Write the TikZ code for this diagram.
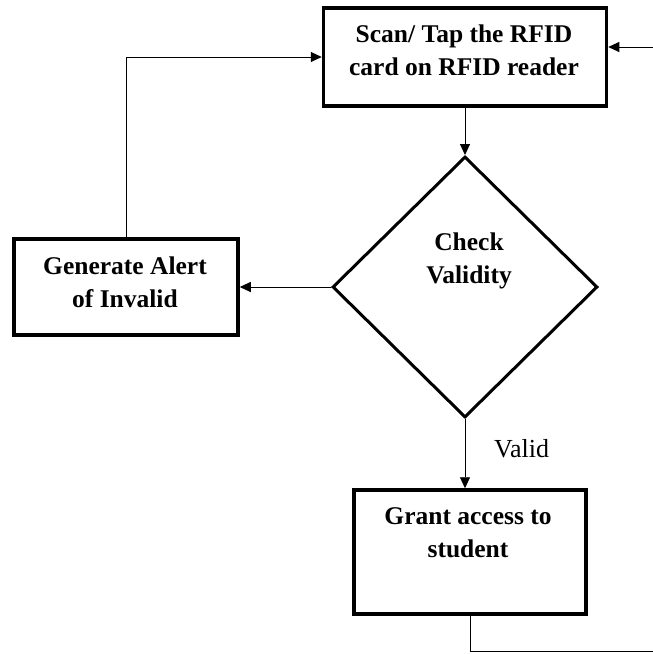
\documentclass[tikz,border=0pt]{standalone}
\usepackage{fontspec}
\setmainfont{Liberation Serif}
\usetikzlibrary{shapes.geometric,arrows.meta}
\tikzset{
  box/.style={draw, line width=3.5pt, rectangle, inner sep=0pt},
  dia/.style={draw, line width=3pt, diamond, inner sep=0pt},
  txt/.style={font=\bfseries\fontsize{25.5}{33}\selectfont, align=center, inner sep=0pt, anchor=base},
  arr/.style={line width=0.9pt, -{Triangle[length=11pt,width=10pt]}},
  ln/.style={line width=0.9pt},
}
\begin{document}
\begin{tikzpicture}[x=1pt,y=-1pt]
\useasboundingbox (0,0) rectangle (653,654);
\node[box, minimum width=283pt, minimum height=98pt] (scan) at (465,57) {};
\node[dia, minimum width=265pt, minimum height=261pt] (check) at (465,287) {};
\node[box, minimum width=224pt, minimum height=96pt] (alert) at (126,287) {};
\node[box, minimum width=232pt, minimum height=124pt] (grant) at (470,552) {};
\node[txt] (scantxt) at (464,75) {Scan/ Tap the RFID\\card on RFID reader};
\node[txt] (checktxt) at (469,283) {Check\\Validity};
\node[txt] (alerttxt) at (125,307) {Generate Alert\\of Invalid};
\node[txt] (granttxt) at (468,557) {Grant access to\\student};
\node[font=\fontsize{26}{33}\selectfont, inner sep=0pt, anchor=base west] (valid) at (494,457) {Valid};
\coordinate (rin) at (653,47);
\coordinate (gout) at (653,651);
\draw[arr] (rin) -- (rin -| scan.east);
\draw[arr] (scan.south) -- (check.north);
\draw[arr] (check.west) -- (alert.east);
\draw[arr] (alert.north) |- (scan.west);
\draw[arr] (check.south) -- (check.south |- grant.north);
\draw[ln] (grant.south) |- (gout);
\end{tikzpicture}
\end{document}
